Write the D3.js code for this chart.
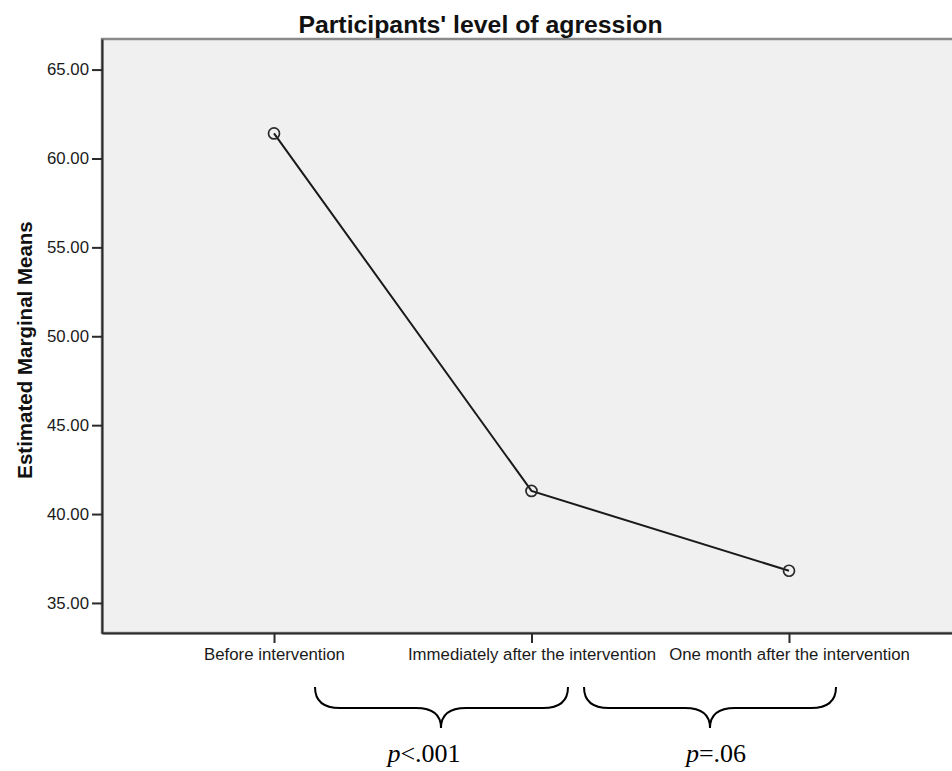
<!DOCTYPE html>
<html>
<head>
<meta charset="utf-8">
<script src="https://cdn.jsdelivr.net/npm/d3@7"></script>
<style>
  body { margin: 0; background: #fff; }
  svg { display: block; }
</style>
</head>
<body>
<svg width="952" height="771"></svg>
<script>
// data
var categories = ["Before intervention", "Immediately after the intervention", "One month after the intervention"];
var means = [61.41, 41.30, 36.81];
var yTicks = [35, 40, 45, 50, 55, 60, 65];
var pLabels = [["p", "<.001"], ["p", "=.06"]];

var svg = d3.select("svg");

// plot frame (window.top is read-only, so use other names)
var plotL = 102, plotR = 961, plotT = 39, plotB = 633;

var x = d3.scalePoint()
    .domain(categories)
    .range([plotL, plotR])
    .padding(0.668);

var y = d3.scaleLinear()
    .domain([33.31, 66.72])
    .range([plotB, plotT]);

svg.append("rect")
    .attr("x", plotL)
    .attr("y", plotT)
    .attr("width", plotR - plotL)
    .attr("height", plotB - plotT)
    .attr("fill", "#f0f0f0")
    .attr("stroke", "#8a8a8a")
    .attr("stroke-width", 2.5);

// axes
var yAxis = svg.append("g")
    .attr("transform", "translate(" + plotL + ",0)")
    .call(d3.axisLeft(y).tickValues(yTicks).tickFormat(d3.format(".2f")).tickSize(10).tickSizeOuter(0).tickPadding(3));

var xAxis = svg.append("g")
    .attr("transform", "translate(0," + plotB + ")")
    .call(d3.axisBottom(x).tickSize(10).tickSizeOuter(0).tickPadding(5));

svg.selectAll(".domain").attr("stroke", "#2a2a2a").attr("stroke-width", 2);
svg.selectAll(".tick line").attr("stroke", "#2a2a2a").attr("stroke-width", 2);
svg.selectAll(".tick text")
    .attr("fill", "#1a1a1a")
    .style("font-family", "'Liberation Sans', Arial, sans-serif")
    .style("font-size", "16.8px");
xAxis.selectAll(".tick text").attr("dy", "0.71em").attr("y", 15);

// title and axis label
svg.append("text")
    .attr("x", plotR / 2)
    .attr("y", 33)
    .attr("text-anchor", "middle")
    .style("font-family", "'Liberation Sans', Arial, sans-serif")
    .style("font-weight", "bold")
    .style("font-size", "24.8px")
    .attr("fill", "#111")
    .text("Participants' level of agression");

svg.append("text")
    .attr("transform", "translate(32,350) rotate(-90)")
    .attr("text-anchor", "middle")
    .style("font-family", "'Liberation Sans', Arial, sans-serif")
    .style("font-weight", "bold")
    .style("font-size", "20.5px")
    .attr("fill", "#111")
    .text("Estimated Marginal Means");

// line and markers
var line = d3.line()
    .x(function (d, i) { return x(categories[i]); })
    .y(function (d) { return y(d); });

svg.append("path")
    .datum(means)
    .attr("d", line)
    .attr("fill", "none")
    .attr("stroke", "#1a1a1a")
    .attr("stroke-width", 2);

svg.selectAll(".pt")
    .data(means)
    .enter().append("circle")
    .attr("class", "pt")
    .attr("cx", function (d, i) { return x(categories[i]); })
    .attr("cy", function (d) { return y(d); })
    .attr("r", 5.5)
    .attr("fill", "none")
    .attr("stroke", "#2a2a2a")
    .attr("stroke-width", 1.7);

// braces with p values under the chart
var braceSpans = [[315, 568, 441], [584, 836, 710]];
var bTop = 687, bFlat = 708, bTip = 728, bR = 25;

function bracePath(s) {
    var x0 = s[0], x1 = s[1], t = s[2];
    return "M" + x0 + "," + bTop +
        " Q" + x0 + "," + bFlat + " " + (x0 + bR) + "," + bFlat +
        " L" + (t - bR) + "," + bFlat +
        " Q" + t + "," + bFlat + " " + t + "," + bTip +
        " Q" + t + "," + bFlat + " " + (t + bR) + "," + bFlat +
        " L" + (x1 - bR) + "," + bFlat +
        " Q" + x1 + "," + bFlat + " " + x1 + "," + bTop;
}

svg.selectAll(".brace")
    .data(braceSpans)
    .enter().append("path")
    .attr("class", "brace")
    .attr("d", bracePath)
    .attr("fill", "none")
    .attr("stroke", "#000")
    .attr("stroke-width", 2);

var pText = svg.selectAll(".ptext")
    .data(pLabels)
    .enter().append("text")
    .attr("class", "ptext")
    .attr("x", function (d, i) { return i == 0 ? 424 : 716; })
    .attr("y", 762)
    .attr("text-anchor", "middle")
    .style("font-family", "'Liberation Serif', 'DejaVu Serif', serif")
    .style("font-size", "26px")
    .attr("fill", "#000");

pText.append("tspan").style("font-style", "italic").text(function (d) { return d[0]; });
pText.append("tspan").text(function (d) { return d[1]; });
</script>
</body>
</html>
